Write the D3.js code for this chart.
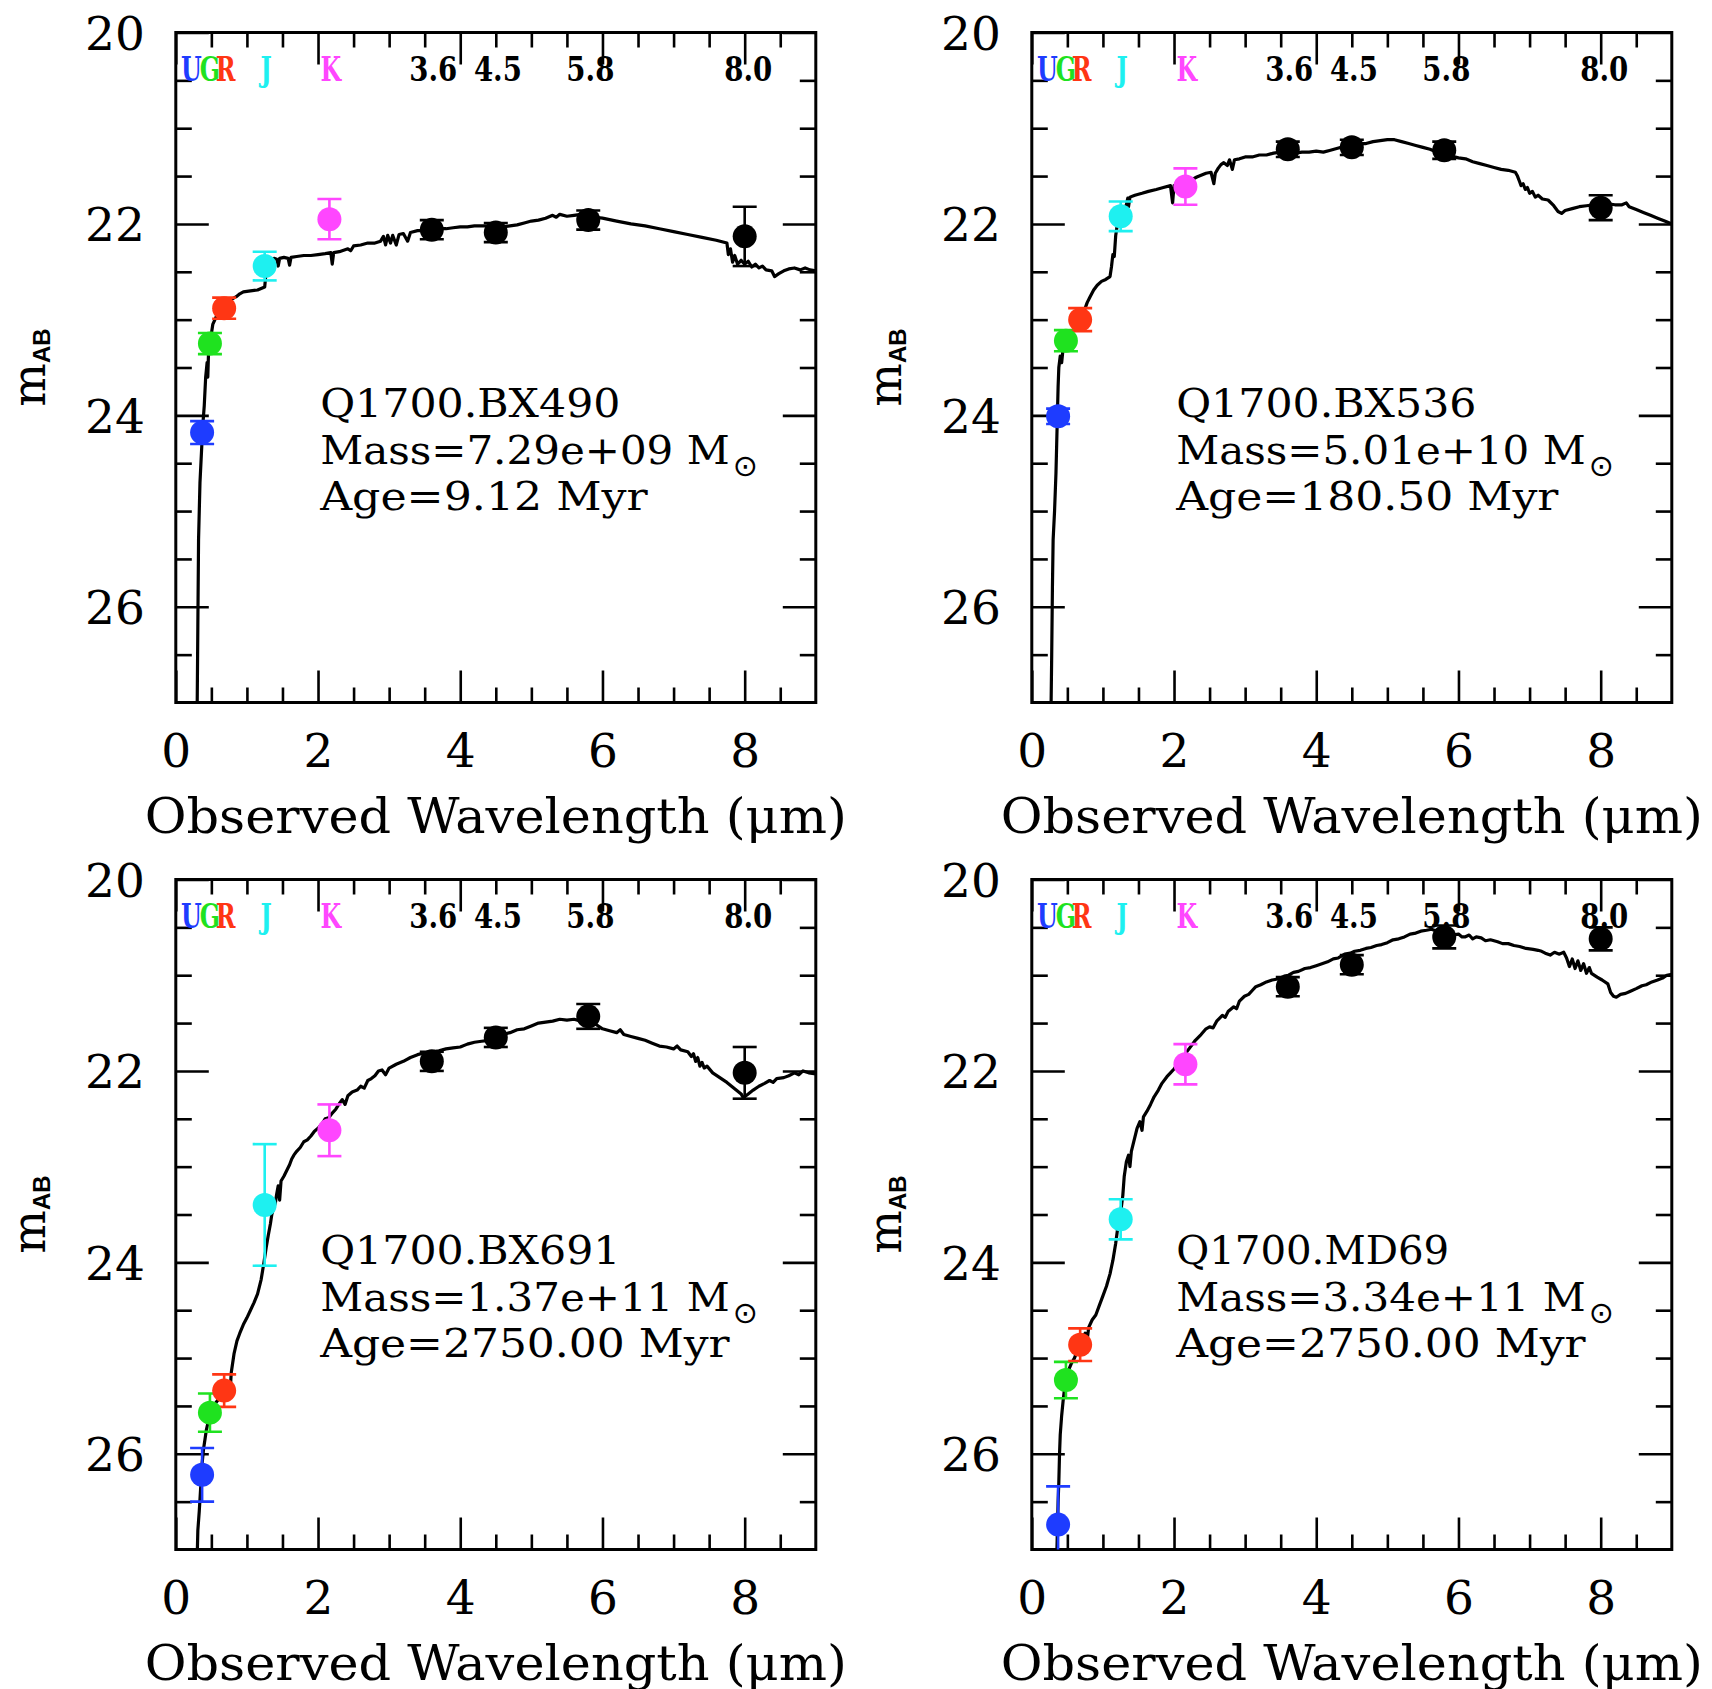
<!DOCTYPE html>
<html>
<head>
<meta charset="utf-8">
<script src="https://cdn.jsdelivr.net/npm/d3@7"></script>
<style>
  html, body { margin: 0; padding: 0; background: #fff; }
  svg { display: block; }
  .serif { font-family: "DejaVu Serif", "Liberation Serif", serif; }
</style>
</head>
<body>
<div id="chart"></div>
<script>
// ---- photometric bands ----
const bandNames  = ["U", "G", "R", "J", "K", "3.6", "4.5", "5.8", "8.0"];
const bandLambda = [0.37, 0.48, 0.68, 1.25, 2.16, 3.6, 4.5, 5.8, 8.0];   // µm
const bandLabelX = [0.22, 0.48, 0.70, 1.27, 2.18, 3.62, 4.53, 5.83, 8.05];
const bandColor  = ["#1e3cff", "#1fe21f", "#ff3614", "#1ef0f0", "#ff46ff", "#000", "#000", "#000", "#000"];

// ---- galaxies ----
const galaxyNames = ["Q1700.BX490", "Q1700.BX536", "Q1700.BX691", "Q1700.MD69"];
const galaxyMass  = ["7.29e+09", "5.01e+10", "1.37e+11", "3.34e+11"];
const galaxyAge   = ["9.12", "180.50", "2750.00", "2750.00"];

// observed AB magnitudes and 1-sigma errors, one value per band
const magBX490 = [24.18, 23.25, 22.88, 22.44, 21.95, 22.06, 22.09, 21.96, 22.13];
const errBX490 = [0.12, 0.11, 0.11, 0.15, 0.21, 0.10, 0.10, 0.10, 0.31];
const magBX536 = [24.01, 23.22, 23.00, 21.92, 21.61, 21.22, 21.20, 21.23, 21.83];
const errBX536 = [0.08, 0.11, 0.12, 0.155, 0.19, 0.08, 0.08, 0.09, 0.13];
const magBX691 = [26.22, 25.57, 25.34, 23.40, 22.62, 21.90, 21.65, 21.43, 22.02];
const errBX691 = [0.28, 0.20, 0.17, 0.635, 0.27, 0.10, 0.10, 0.13, 0.27];
const magMD69  = [26.74, 25.23, 24.86, 23.55, 21.93, 21.12, 20.89, 20.60, 20.62];
const errMD69  = [0.40, 0.19, 0.17, 0.21, 0.21, 0.10, 0.10, 0.12, 0.12];

// best-fitting population synthesis models: [wavelength µm, m_AB]
const modelBX490 = [[0.30,27.1],[0.31,26.2],[0.32,25.3],[0.34,24.7],[0.36,24.4],[0.38,24.1],[0.40,23.9],[0.42,23.6],[0.44,23.45],[0.45,23.6],[0.46,23.35],[0.48,23.2],[0.50,23.15],[0.52,23.05],[0.55,23.0],[0.58,22.95],[0.62,22.9],[0.66,22.88],[0.70,22.85],[0.75,22.8],[0.80,22.78],[0.85,22.76],[0.90,22.73],[0.95,22.71],[1.05,22.7],[1.15,22.69],[1.25,22.66],[1.26,22.58],[1.28,22.42],[1.32,22.38],[1.38,22.36],[1.42,22.37],[1.44,22.44],[1.46,22.36],[1.52,22.35],[1.58,22.36],[1.60,22.43],[1.62,22.35],[1.70,22.34],[1.80,22.33],[1.90,22.33],[2.00,22.32],[2.10,22.31],[2.18,22.3],[2.20,22.42],[2.22,22.3],[2.30,22.29],[2.38,22.27],[2.42,22.26],[2.46,22.28],[2.50,22.23],[2.60,22.22],[2.70,22.2],[2.80,22.2],[2.88,22.18],[2.92,22.13],[2.95,22.22],[2.98,22.12],[3.02,22.2],[3.05,22.12],[3.10,22.22],[3.14,22.11],[3.20,22.1],[3.26,22.18],[3.30,22.09],[3.40,22.07],[3.50,22.07],[3.60,22.06],[3.70,22.05],[3.80,22.05],[3.90,22.04],[4.00,22.03],[4.10,22.03],[4.20,22.02],[4.30,22.02],[4.40,22.02],[4.50,22.02],[4.60,22.03],[4.70,22.02],[4.80,22.01],[4.90,21.99],[5.00,21.97],[5.10,21.96],[5.20,21.94],[5.30,21.91],[5.35,21.93],[5.40,21.9],[5.50,21.92],[5.60,21.91],[5.70,21.9],[5.80,21.91],[5.90,21.93],[6.00,21.94],[6.20,21.97],[6.40,22.0],[6.60,22.02],[6.80,22.05],[7.00,22.08],[7.20,22.11],[7.40,22.14],[7.60,22.17],[7.75,22.2],[7.77,22.32],[7.80,22.26],[7.83,22.4],[7.86,22.33],[7.90,22.42],[7.95,22.38],[8.00,22.42],[8.05,22.39],[8.10,22.45],[8.15,22.42],[8.20,22.46],[8.25,22.44],[8.30,22.48],[8.38,22.49],[8.42,22.55],[8.48,22.52],[8.55,22.49],[8.62,22.47],[8.70,22.46],[8.78,22.48],[8.85,22.46],[8.92,22.48],[9.00,22.49]];

const modelBX536 = [[0.27,27.1],[0.28,26.5],[0.29,25.8],[0.30,25.3],[0.32,25.0],[0.34,24.6],[0.35,24.3],[0.36,24.0],[0.37,23.7],[0.38,23.5],[0.40,23.38],[0.42,23.45],[0.44,23.3],[0.48,23.2],[0.52,23.15],[0.56,23.12],[0.60,23.1],[0.64,23.05],[0.67,22.98],[0.70,22.95],[0.72,23.05],[0.74,22.9],[0.78,22.82],[0.82,22.76],[0.87,22.69],[0.92,22.64],[0.98,22.6],[1.04,22.58],[1.10,22.55],[1.12,22.45],[1.14,22.32],[1.16,22.34],[1.18,22.12],[1.21,21.97],[1.25,21.9],[1.30,21.84],[1.33,21.8],[1.35,21.73],[1.36,21.82],[1.38,21.72],[1.45,21.7],[1.55,21.68],[1.64,21.66],[1.75,21.64],[1.85,21.62],[1.95,21.6],[1.98,21.78],[2.00,21.6],[2.10,21.58],[2.22,21.55],[2.32,21.51],[2.45,21.47],[2.52,21.46],[2.56,21.58],[2.58,21.47],[2.62,21.42],[2.66,21.38],[2.70,21.36],[2.75,21.39],[2.78,21.33],[2.82,21.43],[2.85,21.33],[2.92,21.32],[3.00,21.3],[3.10,21.3],[3.20,21.28],[3.30,21.28],[3.40,21.26],[3.50,21.25],[3.60,21.25],[3.70,21.26],[3.80,21.25],[3.90,21.25],[4.00,21.24],[4.10,21.25],[4.20,21.23],[4.30,21.21],[4.40,21.19],[4.50,21.18],[4.60,21.16],[4.70,21.16],[4.80,21.14],[4.90,21.13],[5.00,21.12],[5.10,21.12],[5.20,21.14],[5.30,21.16],[5.40,21.18],[5.50,21.2],[5.60,21.22],[5.70,21.25],[5.80,21.27],[5.90,21.29],[6.00,21.31],[6.10,21.32],[6.20,21.35],[6.30,21.37],[6.40,21.39],[6.50,21.41],[6.60,21.43],[6.70,21.44],[6.80,21.46],[6.83,21.5],[6.86,21.56],[6.88,21.6],[6.91,21.58],[6.94,21.64],[6.97,21.62],[7.00,21.68],[7.04,21.66],[7.08,21.72],[7.12,21.7],[7.18,21.74],[7.26,21.75],[7.34,21.81],[7.40,21.87],[7.45,21.89],[7.50,21.86],[7.60,21.84],[7.70,21.82],[7.80,21.81],[7.90,21.8],[8.00,21.8],[8.10,21.79],[8.20,21.8],[8.30,21.8],[8.36,21.78],[8.40,21.82],[8.50,21.85],[8.60,21.88],[8.70,21.91],[8.80,21.94],[8.90,21.97],[9.00,22.0]];

const modelBX691 = [[0.30,27.1],[0.31,26.8],[0.33,26.6],[0.35,26.35],[0.37,26.1],[0.39,25.95],[0.41,25.85],[0.43,25.75],[0.46,25.65],[0.50,25.55],[0.55,25.48],[0.60,25.43],[0.65,25.38],[0.70,25.33],[0.74,25.25],[0.76,25.4],[0.78,25.15],[0.82,24.95],[0.86,24.82],[0.90,24.74],[0.95,24.65],[1.00,24.58],[1.05,24.5],[1.10,24.42],[1.15,24.33],[1.20,24.18],[1.24,24.0],[1.27,23.85],[1.30,23.72],[1.33,23.6],[1.35,23.5],[1.38,23.42],[1.40,23.38],[1.42,23.28],[1.44,23.2],[1.46,23.35],[1.48,23.15],[1.52,23.1],[1.56,23.04],[1.60,22.98],[1.63,22.92],[1.66,22.88],[1.70,22.84],[1.75,22.8],[1.80,22.74],[1.85,22.72],[1.90,22.68],[1.95,22.63],[2.00,22.6],[2.06,22.55],[2.10,22.5],[2.15,22.49],[2.20,22.44],[2.25,22.4],[2.30,22.34],[2.34,22.3],[2.38,22.35],[2.42,22.26],[2.48,22.22],[2.55,22.2],[2.60,22.16],[2.65,22.18],[2.70,22.1],[2.75,22.08],[2.80,22.05],[2.85,22.0],[2.90,21.99],[2.95,22.04],[3.00,21.97],[3.10,21.93],[3.20,21.9],[3.30,21.86],[3.40,21.83],[3.50,21.81],[3.60,21.8],[3.70,21.79],[3.80,21.77],[3.90,21.76],[4.00,21.75],[4.10,21.72],[4.20,21.7],[4.30,21.69],[4.40,21.68],[4.50,21.66],[4.60,21.62],[4.70,21.6],[4.80,21.57],[4.90,21.56],[5.00,21.53],[5.10,21.5],[5.20,21.49],[5.30,21.48],[5.40,21.46],[5.50,21.47],[5.60,21.46],[5.70,21.48],[5.80,21.49],[5.85,21.53],[5.90,21.51],[6.00,21.56],[6.10,21.58],[6.20,21.6],[6.25,21.57],[6.30,21.62],[6.40,21.64],[6.50,21.66],[6.60,21.68],[6.70,21.71],[6.80,21.74],[6.90,21.75],[7.00,21.77],[7.05,21.74],[7.10,21.78],[7.20,21.8],[7.25,21.85],[7.28,21.82],[7.31,21.9],[7.34,21.86],[7.37,21.95],[7.40,21.91],[7.43,21.97],[7.47,21.95],[7.55,22.02],[7.65,22.07],[7.75,22.12],[7.85,22.18],[7.95,22.24],[7.98,22.28],[8.05,22.24],[8.12,22.2],[8.20,22.16],[8.28,22.13],[8.35,22.1],[8.40,22.12],[8.45,22.08],[8.55,22.07],[8.62,22.05],[8.70,22.02],[8.76,22.04],[8.82,22.0],[8.90,22.02],[9.00,22.03]];

const modelMD69 = [[0.35,27.1],[0.36,26.8],[0.37,26.5],[0.38,26.3],[0.39,26.0],[0.40,25.8],[0.42,25.6],[0.44,25.45],[0.46,25.32],[0.48,25.22],[0.52,25.12],[0.56,25.05],[0.60,25.0],[0.64,24.92],[0.68,24.84],[0.72,24.78],[0.75,24.74],[0.78,24.8],[0.80,24.68],[0.85,24.6],[0.90,24.55],[0.95,24.45],[1.00,24.35],[1.05,24.25],[1.10,24.12],[1.14,23.98],[1.18,23.8],[1.21,23.63],[1.25,23.48],[1.28,23.3],[1.30,23.1],[1.33,22.95],[1.36,22.88],[1.38,23.0],[1.40,22.84],[1.44,22.72],[1.48,22.6],[1.52,22.53],[1.55,22.62],[1.57,22.48],[1.62,22.42],[1.67,22.35],[1.72,22.27],[1.78,22.2],[1.83,22.13],[1.90,22.06],[1.95,22.02],[2.00,21.98],[2.05,21.93],[2.10,21.87],[2.15,21.83],[2.20,21.78],[2.25,21.73],[2.30,21.68],[2.38,21.62],[2.45,21.56],[2.50,21.54],[2.55,21.55],[2.60,21.48],[2.68,21.42],[2.72,21.44],[2.76,21.38],[2.84,21.33],[2.88,21.35],[2.92,21.27],[2.99,21.22],[3.05,21.2],[3.10,21.16],[3.15,21.12],[3.22,21.1],[3.30,21.07],[3.38,21.05],[3.46,21.04],[3.55,21.01],[3.61,21.0],[3.68,20.97],[3.75,20.96],[3.84,20.93],[3.92,20.92],[4.00,20.9],[4.08,20.88],[4.16,20.86],[4.24,20.83],[4.31,20.82],[4.40,20.78],[4.48,20.77],[4.54,20.75],[4.62,20.74],[4.70,20.72],[4.77,20.71],[4.85,20.69],[4.92,20.68],[5.00,20.66],[5.08,20.63],[5.16,20.62],[5.24,20.6],[5.32,20.57],[5.40,20.56],[5.47,20.54],[5.55,20.53],[5.62,20.52],[5.70,20.54],[5.78,20.55],[5.85,20.56],[5.92,20.58],[6.00,20.57],[6.05,20.6],[6.09,20.6],[6.15,20.58],[6.20,20.62],[6.25,20.6],[6.32,20.61],[6.38,20.64],[6.45,20.63],[6.55,20.65],[6.62,20.67],[6.70,20.67],[6.78,20.69],[6.86,20.7],[6.95,20.72],[7.05,20.73],[7.12,20.74],[7.17,20.75],[7.22,20.77],[7.29,20.79],[7.35,20.76],[7.42,20.78],[7.48,20.76],[7.52,20.82],[7.56,20.91],[7.60,20.83],[7.64,20.93],[7.68,20.85],[7.72,20.95],[7.76,20.88],[7.80,20.98],[7.84,20.92],[7.87,20.98],[7.95,21.02],[8.02,21.05],[8.10,21.09],[8.14,21.18],[8.18,21.22],[8.22,21.23],[8.28,21.2],[8.35,21.19],[8.41,21.17],[8.50,21.14],[8.58,21.11],[8.64,21.1],[8.72,21.07],[8.80,21.05],[8.87,21.03],[8.93,21.0],[9.00,20.99]];

// axis ticks
const xMajorTicks = [0, 2, 4, 6, 8];
const xMinorTicks = [0.5, 1, 1.5, 2.5, 3, 3.5, 4.5, 5, 5.5, 6.5, 7, 7.5, 8.5];
const yMajorTicks = [20, 22, 24, 26];
const yMinorTicks = [20.5, 21, 21.5, 22.5, 23, 23.5, 24.5, 25, 25.5, 26.5];

const panels = [
  { name: galaxyNames[0], mass: galaxyMass[0], age: galaxyAge[0], mag: magBX490, err: errBX490, model: modelBX490 },
  { name: galaxyNames[1], mass: galaxyMass[1], age: galaxyAge[1], mag: magBX536, err: errBX536, model: modelBX536 },
  { name: galaxyNames[2], mass: galaxyMass[2], age: galaxyAge[2], mag: magBX691, err: errBX691, model: modelBX691 },
  { name: galaxyNames[3], mass: galaxyMass[3], age: galaxyAge[3], mag: magMD69,  err: errMD69,  model: modelMD69 }
];

// ---- layout ----
const W = 1712, H = 1689;
const plotW = 640, plotH = 670;
const origins = [[175.8, 32.5], [1031.8, 32.5], [175.8, 879.5], [1031.8, 879.5]];
const charW = 27.3;      // advance of one character in the fit-parameter block
const lineStep = 46.6;   // baseline spacing of the fit-parameter block

const svg = d3.select("#chart").append("svg")
  .attr("width", W).attr("height", H)
  .attr("viewBox", `0 0 ${W} ${H}`);

const x = d3.scaleLinear().domain([0, 9]).range([0, plotW]);
const y = d3.scaleLinear().domain([20, 27]).range([0, plotH]);

const line = d3.line().x(d => x(d[0])).y(d => y(d[1]));

function styleAxis(sel, width) {
  sel.select(".domain").remove();
  sel.selectAll(".tick line").attr("stroke", "#000").attr("stroke-width", width);
}

panels.forEach((p, i) => {
  const g = svg.append("g").attr("transform", `translate(${origins[i][0]},${origins[i][1]})`);

  g.append("clipPath").attr("id", "clip" + i)
    .append("rect").attr("width", plotW).attr("height", plotH);

  // ticks: major and minor, all pointing inwards
  const bottomMaj = g.append("g").attr("transform", `translate(0,${plotH})`)
    .call(d3.axisBottom(x).tickValues(xMajorTicks).tickSizeInner(-32).tickSizeOuter(0).tickFormat(d3.format("d")));
  styleAxis(bottomMaj, 2.6);
  bottomMaj.selectAll("text")
    .attr("class", "serif").attr("y", 64).attr("dy", null)
    .attr("font-size", 47).attr("fill", "#000");

  const bottomMin = g.append("g").attr("transform", `translate(0,${plotH})`)
    .call(d3.axisBottom(x).tickValues(xMinorTicks).tickSizeInner(-15).tickSizeOuter(0).tickFormat(""));
  styleAxis(bottomMin, 2.6);

  const topMaj = g.append("g")
    .call(d3.axisTop(x).tickValues(xMajorTicks).tickSizeInner(-32).tickSizeOuter(0).tickFormat(""));
  styleAxis(topMaj, 2.6);
  const topMin = g.append("g")
    .call(d3.axisTop(x).tickValues(xMinorTicks).tickSizeInner(-15).tickSizeOuter(0).tickFormat(""));
  styleAxis(topMin, 2.6);

  const leftMaj = g.append("g")
    .call(d3.axisLeft(y).tickValues(yMajorTicks).tickSizeInner(-33).tickSizeOuter(0).tickFormat(d3.format("d")));
  styleAxis(leftMaj, 2.6);
  leftMaj.selectAll("text")
    .attr("class", "serif").attr("x", -31).attr("dy", 17)
    .attr("font-size", 47).attr("fill", "#000").attr("text-anchor", "end");

  const leftMin = g.append("g")
    .call(d3.axisLeft(y).tickValues(yMinorTicks).tickSizeInner(-16).tickSizeOuter(0).tickFormat(""));
  styleAxis(leftMin, 2.6);

  const rightMaj = g.append("g").attr("transform", `translate(${plotW},0)`)
    .call(d3.axisRight(y).tickValues(yMajorTicks).tickSizeInner(-33).tickSizeOuter(0).tickFormat(""));
  styleAxis(rightMaj, 2.6);
  const rightMin = g.append("g").attr("transform", `translate(${plotW},0)`)
    .call(d3.axisRight(y).tickValues(yMinorTicks).tickSizeInner(-16).tickSizeOuter(0).tickFormat(""));
  styleAxis(rightMin, 2.6);

  // frame
  g.append("rect").attr("width", plotW).attr("height", plotH)
    .attr("fill", "none").attr("stroke", "#000").attr("stroke-width", 3);

  // model spectrum
  g.append("path").datum(p.model)
    .attr("clip-path", `url(#clip${i})`)
    .attr("d", line)
    .attr("fill", "none").attr("stroke", "#000")
    .attr("stroke-width", 3.2).attr("stroke-linejoin", "round");

  // photometry with error bars
  const pts = bandLambda.map((lam, k) => ({ lam, m: p.mag[k], e: p.err[k], c: bandColor[k] }));
  const pg = g.append("g").attr("clip-path", `url(#clip${i})`);
  const cap = 12;
  const eb = pg.selectAll("g.eb").data(pts).join("g").attr("class", "eb")
    .attr("stroke", d => d.c).attr("stroke-width", 2.6);
  eb.append("line")
    .attr("x1", d => x(d.lam)).attr("x2", d => x(d.lam))
    .attr("y1", d => y(d.m - d.e)).attr("y2", d => y(d.m + d.e));
  eb.append("line")
    .attr("x1", d => x(d.lam) - cap).attr("x2", d => x(d.lam) + cap)
    .attr("y1", d => y(d.m - d.e)).attr("y2", d => y(d.m - d.e));
  eb.append("line")
    .attr("x1", d => x(d.lam) - cap).attr("x2", d => x(d.lam) + cap)
    .attr("y1", d => y(d.m + d.e)).attr("y2", d => y(d.m + d.e));
  pg.selectAll("circle").data(pts).join("circle")
    .attr("cx", d => x(d.lam)).attr("cy", d => y(d.m))
    .attr("r", 12).attr("fill", d => d.c);

  // band labels along the top
  bandNames.forEach((b, k) => {
    const isLetter = b.length === 1;
    const t = g.append("text")
      .attr("class", "serif")
      .attr("text-anchor", "middle")
      .attr("font-weight", "bold")
      .attr("font-size", 33)
      .attr("fill", bandColor[k])
      .text(b);
    if (isLetter) {
      t.attr("transform", `translate(${x(bandLabelX[k])},48.5) scale(0.72,1)`);
    } else {
      t.attr("x", x(bandLabelX[k])).attr("y", 48.5)
        .attr("textLength", 48).attr("lengthAdjust", "spacingAndGlyphs");
    }
  });

  // fit parameters
  const ax = x(2.03), ay = y(24.02);
  const info = g.append("g").attr("class", "serif").attr("font-size", 40).attr("fill", "#000");
  const lines = [p.name, `Mass=${p.mass} M`, `Age=${p.age} Myr`];
  lines.forEach((s, k) => {
    info.append("text")
      .attr("x", ax).attr("y", ay + lineStep * k)
      .attr("textLength", s.length * charW).attr("lengthAdjust", "spacingAndGlyphs")
      .text(s);
  });
  // solar symbol as a subscript after "M"
  info.append("text")
    .attr("x", ax + lines[1].length * charW + 3).attr("y", ay + lineStep + 12)
    .attr("font-family", "DejaVu Sans").attr("font-size", 30)
    .text("\u2299");

  // axis titles
  g.append("text").attr("class", "serif")
    .attr("x", plotW / 2).attr("y", plotH + 130)
    .attr("text-anchor", "middle").attr("font-size", 48)
    .attr("textLength", 702).attr("lengthAdjust", "spacingAndGlyphs")
    .text("Observed Wavelength (\u03bcm)");

  const yt = g.append("text")
    .attr("transform", `translate(-131,${plotH / 2}) rotate(-90)`)
    .attr("text-anchor", "middle");
  yt.append("tspan").attr("class", "serif").attr("font-size", 46).text("m");
  yt.append("tspan").attr("font-family", "Liberation Sans").attr("font-weight", "bold")
    .attr("font-size", 24).attr("dy", 5).text("AB");
});
</script>
</body>
</html>
